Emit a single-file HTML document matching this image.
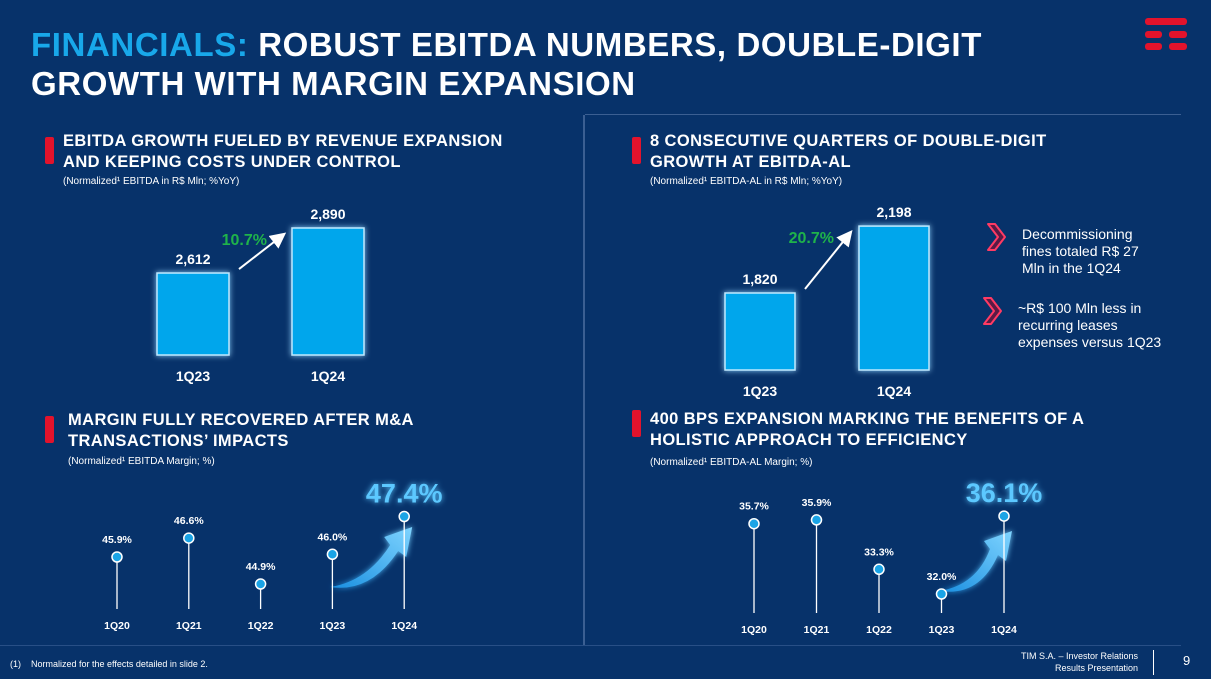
<!DOCTYPE html>
<html><head><meta charset="utf-8">
<style>
*{margin:0;padding:0;box-sizing:border-box}
body{width:1211px;height:679px;background:#07326a;font-family:"Liberation Sans",sans-serif;color:#fff;overflow:hidden;position:relative}
.abs{position:absolute}
h1{position:absolute;left:31px;top:25px;font-size:33px;line-height:39px;font-weight:bold;letter-spacing:0.6px}
h1 span{color:#18a8ea}
.st{position:absolute;font-size:16.5px;font-weight:bold;line-height:21px;letter-spacing:0.4px}
.sub{position:absolute;font-size:10px}
.redbar{position:absolute;width:9px;height:27px;background:#e2132c;border-radius:2px}
.note{position:absolute;font-size:14px;line-height:17px}
</style></head><body>
<h1><span>FINANCIALS:</span> ROBUST EBITDA NUMBERS, DOUBLE-DIGIT<br>GROWTH WITH MARGIN EXPANSION</h1>
<svg class="abs" style="left:1143px;top:17px" width="45" height="37">
<rect x="2" y="1" width="42" height="7" rx="3" fill="#e2132c"/><rect x="2" y="14" width="17" height="7" rx="3" fill="#e2132c"/><rect x="26" y="14" width="18" height="7" rx="3" fill="#e2132c"/><rect x="2" y="26" width="17" height="7" rx="3" fill="#e2132c"/><rect x="26" y="26" width="18" height="7" rx="3" fill="#e2132c"/></svg>
<div class="abs" style="left:583px;top:115px;width:2px;height:530px;background:#3b5f92"></div>
<div class="abs" style="left:585px;top:114px;width:596px;height:1px;background:#3b5f92"></div>

<div class="redbar" style="left:45px;top:137px"></div>
<div class="st" style="left:63px;top:131px">EBITDA GROWTH FUELED BY REVENUE EXPANSION<br>AND KEEPING COSTS UNDER CONTROL</div>
<div class="sub" style="left:63px;top:176px">(Normalized¹ EBITDA in R$ Mln; %YoY)</div>

<div class="redbar" style="left:632px;top:137px"></div>
<div class="st" style="left:650px;top:131px">8 CONSECUTIVE QUARTERS OF DOUBLE-DIGIT<br>GROWTH AT EBITDA-AL</div>
<div class="sub" style="left:650px;top:176px">(Normalized¹ EBITDA-AL in R$ Mln; %YoY)</div>

<div class="redbar" style="left:45px;top:416px"></div>
<div class="st" style="left:68px;top:410px">MARGIN FULLY RECOVERED AFTER M&amp;A<br>TRANSACTIONS’ IMPACTS</div>
<div class="sub" style="left:68px;top:456px">(Normalized¹ EBITDA Margin; %)</div>

<div class="redbar" style="left:632px;top:410px"></div>
<div class="st" style="left:650px;top:409px">400 BPS EXPANSION MARKING THE BENEFITS OF A<br>HOLISTIC APPROACH TO EFFICIENCY</div>
<div class="sub" style="left:650px;top:457px">(Normalized¹ EBITDA-AL Margin; %)</div>

<svg class="abs" style="left:985px;top:221px" width="24" height="34"><path d="M3 3 L10 3 L20 16 L10 29 L3 29 L13 16 Z" fill="#5a1a45" stroke="#ff3a63" stroke-width="2" stroke-linejoin="round"/></svg>
<div class="note" style="left:1022px;top:226px">Decommissioning<br>fines totaled R$ 27<br>Mln in the 1Q24</div>
<svg class="abs" style="left:981px;top:295px" width="24" height="34"><path d="M3 3 L10 3 L20 16 L10 29 L3 29 L13 16 Z" fill="#5a1a45" stroke="#ff3a63" stroke-width="2" stroke-linejoin="round"/></svg>
<div class="note" style="left:1018px;top:300px">~R$ 100 Mln less in<br>recurring leases<br>expenses versus 1Q23</div>

<svg id="chart" class="abs" style="left:0;top:0" width="1211" height="679">
<defs>
<filter id="glow" x="-50%" y="-50%" width="200%" height="200%"><feGaussianBlur stdDeviation="3" result="b"/><feMerge><feMergeNode in="b"/><feMergeNode in="SourceGraphic"/></feMerge></filter>
<marker id="ah" markerWidth="8" markerHeight="8" refX="6" refY="4" orient="auto"><path d="M0 0 L8 4 L0 8 Z" fill="#fff"/></marker>
<linearGradient id="ag" x1="0" x2="1" y1="1" y2="0"><stop offset="0" stop-color="#1a8fe0"/><stop offset="1" stop-color="#7fd4ff"/></linearGradient>
</defs>
</svg>

<div class="abs" style="left:0;top:645px;width:1181px;height:1px;background:#284f86"></div>
<div class="abs" style="left:10px;top:659px;font-size:9px">(1)&nbsp;&nbsp;&nbsp; Normalized for the effects detailed in slide 2.</div>
<div class="abs" style="left:1000px;top:650px;width:138px;text-align:right;font-size:9px;line-height:12px">TIM S.A. – Investor Relations<br>Results Presentation</div>
<div class="abs" style="left:1153px;top:650px;width:1px;height:25px;background:#fff"></div>
<div class="abs" style="left:1183px;top:653px;font-size:13px">9</div>

<script>
const barCats=["1Q23","1Q24"];
const ebitdaVals=[2612,2890];
const ebitdaLabels=["2,612","2,890"];
const ebitdaGrowth="10.7%";
const alVals=[1820,2198];
const alLabels=["1,820","2,198"];
const alGrowth="20.7%";
const marginCats=["1Q20","1Q21","1Q22","1Q23","1Q24"];
const marginVals=[45.9,46.6,44.9,46.0,47.4];
const alMarginVals=[35.7,35.9,33.3,32.0,36.1];

const svg=document.getElementById('chart');
const NS='http://www.w3.org/2000/svg';
function mk(t,a,txt){const e=document.createElementNS(NS,t);for(const k in a)e.setAttribute(k,a[k]);if(txt!==undefined)e.textContent=txt;svg.appendChild(e);return e;}
function fmtPct(v){return v.toFixed(1)+'%';}

function barChart(vals,labels,growth,x0,gap,w,base,zero,scale,name){
  const y=v=>base-(v-zero)*scale;
  const tops=[];
  vals.forEach((v,i)=>{
    const x=x0+i*gap, t=y(v); tops.push([x,t]);
    const r=mk('rect',{x:x,y:t,width:w,height:base-t,fill:'#00a6ec',stroke:'#bfe9ff','stroke-width':1.5,filter:'url(#glow)'});
    
    
    const l=mk('text',{x:x+w/2,y:t-9,'text-anchor':'middle','font-size':14,'font-weight':'bold',fill:'#fff'},labels[i]);
    
    
    const c=mk('text',{x:x+w/2,y:base+26,'text-anchor':'middle','font-size':14,'font-weight':'bold',fill:'#fff'},barCats[i]);
    
    
  });
  const a=mk('line',{x1:tops[0][0]+w+10,y1:tops[0][1]-4,x2:tops[1][0]-9,y2:tops[1][1]+7,stroke:'#fff','stroke-width':2,'marker-end':'url(#ah)'});
  
  
  const g=mk('text',{x:tops[1][0]-25,y:tops[1][1]+17,'text-anchor':'end','font-size':16,'font-weight':'bold',fill:'#1fb34a'},growth);
  
  
}
barChart(ebitdaVals,ebitdaLabels,ebitdaGrowth,157,135,72,355,2106,0.162,'ebitda');
barChart(alVals,alLabels,alGrowth,725,134,70,370,1385,0.177,'ebitda-al');

function lollipop(vals,x0,gap,base,ref,refY,scale,name){
  const y=v=>refY-(v-ref)*scale;
  const n=vals.length;
  const xa=x0+(n-2)*gap, xb=x0+(n-1)*gap;
  const p=mk('path',{d:`M${xa-2} ${base-22} Q${xa+35} ${base-28} ${xb-14} ${base-64} L${xb-20} ${base-72} L${xb+8} ${base-82} L${xb+2} ${base-52} L${xb-6} ${base-58} Q${xa+38} ${base-16} ${xa-2} ${base-22} Z`,fill:'url(#ag)',filter:'url(#glow)'});
  
  
  vals.forEach((v,i)=>{
    const x=x0+i*gap, yy=y(v), last=i===n-1;
    const s=mk('line',{x1:x,y1:yy,x2:x,y2:base,stroke:'#fff','stroke-width':1.3});
    
    
    const c=mk('circle',{cx:x,cy:yy,r:5,fill:'#1aa4e6',stroke:'#fff','stroke-width':1.5});
    
    
    const l=mk('text',last?{x:x,y:yy-14,'text-anchor':'middle','font-size':27,'font-weight':'bold',fill:'#5cc8ff',filter:'url(#glow)'}:{x:x,y:yy-14,'text-anchor':'middle','font-size':10.5,'font-weight':'bold',fill:'#fff'},fmtPct(v));
    
    
    const t=mk('text',{x:x,y:base+20,'text-anchor':'middle','font-size':10.5,'font-weight':'bold',fill:'#fff'},marginCats[i]);
    
    
  });
}
lollipop(marginVals,117,71.8,609,44.9,584,27,'margin');
lollipop(alMarginVals,754,62.5,613,32.0,594,19,'al-margin');
</script>
</body></html>
